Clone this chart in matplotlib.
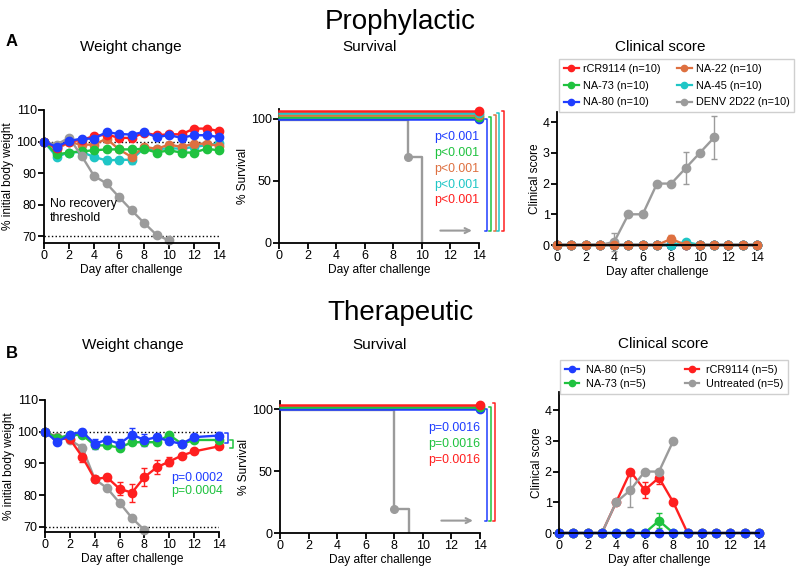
import numpy as np
import matplotlib
matplotlib.use("Agg")
import matplotlib.pyplot as plt
from matplotlib.lines import Line2D

plt.rcParams['font.family'] = ['Liberation Sans', 'DejaVu Sans']
plt.rcParams['font.size'] = 9

RED = '#ff1f1f'
GREEN = '#1fc23f'
BLUE = '#1f3dff'
ORANGE = '#de7040'
CYAN = '#1fc6c6'
GRAY = '#9b9b9b'

# ---- prophylactic data ----
days = np.arange(15)
pro_w_red = [100, 98.0, 100.0, 100.5, 101.7, 102.2, 101.2, 101.1, 102.8, 102.0, 102.3, 102.3, 104.1, 104.1, 103.3]
pro_w_orange = [100, 97.5, 99.8, 99.0, 99.0, 100.9, 97.5, 95.1, 98.3, 97.7, 99.0, 98.3, 99.3, 99.3, 98.6]
pro_w_green = [100, 95.9, 96.5, 96.9, 97.2, 97.5, 97.5, 97.5, 97.7, 96.5, 97.2, 96.5, 96.5, 97.7, 97.2]
pro_w_cyan = [100, 95.2, 96.5, 96.7, 95.1, 94.0, 94.2, 94.2, 97.9, 97.5, 97.9, 97.7, 98.3, 98.8, 99.4]
pro_w_blue = [100, 98.3, 100.2, 100.9, 100.9, 103.0, 102.4, 102.2, 103.0, 101.4, 102.0, 101.2, 102.0, 102.0, 101.4]
pro_w_gray = [100, 99.0, 101.2, 95.5, 89.1, 86.7, 82.4, 78.2, 74.2, 70.4, 68.6]
pro_e_cyan = [0, 0.5, 0.4, 0.5, 0.8, 1.0, 1.0, 1.2, 0.8, 0.5, 0.5, 0.5, 0.5, 0.5, 0.5]
pro_e_orange = [0, 0.4, 0.4, 0.5, 0.5, 0.6, 0.6, 1.2, 0.5, 0.5, 0.5, 0.5, 0.5, 0.5, 0.5]
pro_e_gray = [0, 0.3, 0.4, 0.5, 0.6, 0.8, 0.8, 0.6, 0.5, 0.5, 0.4]

pro_surv_labels = ['NA-80', 'NA-73', 'NA-22', 'NA-45', 'rCR9114']
pro_surv_colors = [BLUE, GREEN, ORANGE, CYAN, RED]
pro_surv = [100, 100, 100, 100, 100]
pro_gray_surv_days = [0, 9, 10]
pro_gray_surv = [100, 70, 0]
pro_pvals = ['p<0.001', 'p<0.001', 'p<0.001', 'p<0.001', 'p<0.001']

pro_cs_red = [0] * 15
pro_cs_green = [0] * 15
pro_cs_blue = [0] * 15
pro_cs_orange = [0, 0, 0, 0, 0, 0, 0, 0, 0.2, 0, 0, 0, 0, 0, 0]
pro_cs_cyan = [0, 0, 0, 0, 0, 0, 0, 0, 0, 0.1, 0, 0, 0, 0, 0]
pro_cs_gray = [0, 0, 0, 0, 0.1, 1, 1, 2, 2, 2.5, 3, 3.5]
pro_ce_gray = [0, 0, 0, 0, 0.3, 0, 0, 0, 0, 0.53, 0, 0.7]
pro_ce_orange = [0, 0, 0, 0, 0, 0, 0, 0, 0.13, 0, 0, 0, 0, 0, 0]
pro_leg_labels = ['rCR9114 (n=10)', 'NA-73 (n=10)', 'NA-80 (n=10)',
                  'NA-22 (n=10)', 'NA-45 (n=10)', 'DENV 2D22 (n=10)']
pro_leg_colors = [RED, GREEN, BLUE, ORANGE, CYAN, GRAY]

# ---- therapeutic data ----
tdays = [0, 1, 2, 3, 4, 5, 6, 7, 8, 9, 10, 11, 12, 14]
ther_w_blue = [100, 96.7, 99.1, 100.0, 96.2, 97.5, 96.2, 99.1, 97.4, 98.3, 97.0, 96.2, 98.3, 98.8]
ther_w_green = [100, 98.0, 99.0, 99.0, 95.7, 95.7, 95.0, 96.7, 96.7, 96.7, 99.0, 96.2, 97.4, 97.4]
ther_w_red = [100, 98.0, 97.7, 92.1, 85.1, 85.6, 82.0, 80.8, 85.7, 88.8, 90.6, 92.5, 93.8, 95.4]
ther_w_gray = [100, 98.3, 97.4, 95.0, 85.1, 82.2, 77.6, 72.8, 69.0]
ther_e_blue = [0, 0.5, 0.5, 0.8, 1.5, 1.2, 1.5, 2.0, 2.0, 1.0, 1.0, 0.5, 0.5, 1.0]
ther_e_green = [0, 0.4, 0.4, 0.5, 0.8, 0.5, 0.8, 0.5, 0.5, 0.5, 0.5, 0.5, 0.5, 0.5]
ther_e_red = [0, 0.4, 0.5, 1.5, 1.0, 1.2, 2.0, 2.8, 2.8, 2.2, 1.5, 0.8, 0.6, 0.8]
ther_e_gray = [0, 0.3, 0.4, 1.0, 0.6, 0.8, 0.8, 0.6, 0.5]

ther_surv_colors = [BLUE, GREEN, RED]
ther_surv = [100, 100, 100]
ther_gray_surv_days = [0, 8, 9]
ther_gray_surv = [100, 20, 0]
ther_pvals = ['p=0.0016', 'p=0.0016', 'p=0.0016']

ther_cs_blue = [0] * 15
ther_cs_green = [0, 0, 0, 0, 0, 0, 0, 0.4, 0, 0, 0, 0, 0, 0, 0]
ther_ce_green = [0, 0, 0, 0, 0, 0, 0, 0.25, 0, 0, 0, 0, 0, 0, 0]
ther_cs_red = [0, 0, 0, 0, 1, 2, 1.4, 1.8, 1, 0, 0, 0, 0, 0, 0]
ther_ce_red = [0, 0, 0, 0, 0, 0.05, 0.25, 0.2, 0, 0, 0, 0, 0, 0, 0]
ther_cs_gray = [0, 0, 0, 0, 1, 1.4, 2, 2, 3]
ther_ce_gray = [0, 0, 0, 0, 0, 0.55, 0, 0, 0]
ther_leg_labels = ['NA-80 (n=5)', 'NA-73 (n=5)', 'rCR9114 (n=5)', 'Untreated (n=5)']
ther_leg_colors = [BLUE, GREEN, RED, GRAY]

W, H = 800, 573
fig = plt.figure(figsize=(8, 5.73), dpi=100)
LAB = 8.6


def box(l, t, r, b):
    return [l / W, 1 - b / H, (r - l) / W, (b - t) / H]


def ftext(x, y, s, **kw):
    fig.text(x / W, 1 - y / H, s, ha=kw.pop('ha', 'center'), va=kw.pop('va', 'center'), **kw)


def style(ax, ylabel):
    for s in ['top', 'right']:
        ax.spines[s].set_visible(False)
    for s in ['left', 'bottom']:
        ax.spines[s].set_linewidth(1.3)
    ax.tick_params(direction='out', length=4, width=1.3, labelsize=LAB + 0.4, pad=1.2)
    ax.set_xlim(0, 14)
    ax.set_xticks(range(0, 15, 2))
    ax.set_xlabel('Day after challenge', fontsize=LAB, labelpad=1.5)
    ax.set_ylabel(ylabel, fontsize=LAB, labelpad=1)
    ax.patch.set_alpha(0)


def curve(ax, x, y, c, err=None, z=2):
    return ax.errorbar(x, y, yerr=err, color=c, lw=1.7, marker='o', ms=6, capsize=2.5,
                       elinewidth=1, ecolor=c, clip_on=False, zorder=z)


def bracket(ax, x, top, bottom, c, w=0.15):
    ax.plot([x - w, x, x, x - w], [top, top, bottom, bottom], color=c, lw=1.1, clip_on=False)


def legend(ax, labels, colors, x, y, **kw):
    handles = [Line2D([], [], color=c, lw=1.6, marker='o', ms=4.5) for c in colors]
    ax.legend(handles, labels, ncol=2, loc='upper left', bbox_to_anchor=(x / W, 1 - y / H),
              bbox_transform=fig.transFigure, fancybox=False, edgecolor='#c4c4c4',
              fontsize=7.8, borderaxespad=0, **kw)


def survival(ax, colors, vals, gdays, gvals, pvals, ytext, xb, tops, ylim):
    offs = np.arange(len(vals)) * 1.5
    for c, v, o in zip(colors, vals, offs):
        ax.plot([0, 14], [v + o, v + o], color=c, lw=1.8, marker='o', ms=6,
                markevery=[1], clip_on=False, zorder=3)
    ax.plot(gdays, np.array(gvals) - 1, color=GRAY, lw=1.7, drawstyle='steps-post', zorder=2)
    ax.plot(gdays[1], gvals[1] - 1, 'o', color=GRAY, ms=5.5, zorder=2)
    for i, (c, p) in enumerate(zip(colors, pvals)):
        ax.text(14, ytext - i * 12.8, p, color=c, ha='right', va='center', fontsize=8.9)
    for c, x, t in zip(colors, xb, tops):
        bracket(ax, x, t, 10, c)
    ax.annotate('', xy=(13.7, 10), xytext=(11.1, 10),
                arrowprops=dict(arrowstyle='->', color=GRAY, lw=1.5))
    ax.set_ylim(*ylim)
    ax.set_yticks([0, 50, 100])


# ================= Prophylactic =================
ftext(400, 22, 'Prophylactic', fontsize=20)
ftext(12, 41, 'A', fontsize=12, fontweight='bold')
ftext(131, 47, 'Weight change', fontsize=11)
ftext(370, 47, 'Survival', fontsize=11)
ftext(660, 47, 'Clinical score', fontsize=11)

ax = fig.add_axes(box(44, 110, 219, 243))
style(ax, '% initial body weight')
ax.axhline(100, ls=':', color='k', lw=1, zorder=1)
ax.axhline(70, ls=':', color='k', lw=1, zorder=1)
curve(ax, days, pro_w_cyan, CYAN, pro_e_cyan)
curve(ax, days, pro_w_orange, ORANGE, pro_e_orange)
curve(ax, days, pro_w_green, GREEN, 0.4)
curve(ax, days[:len(pro_w_gray)], pro_w_gray, GRAY, pro_e_gray)
curve(ax, days, pro_w_red, RED, 0.4)
curve(ax, days, pro_w_blue, BLUE, 0.4)
ax.text(0.5, 78, 'No recovery\nthreshold', fontsize=8.9, va='center', ha='left', linespacing=1.2)
ax.set_ylim(67.8, 110)
ax.set_yticks([70, 80, 90, 100, 110])

ax = fig.add_axes(box(279, 109, 479, 243))
style(ax, '% Survival')
survival(ax, pro_surv_colors, pro_surv, pro_gray_surv_days, pro_gray_surv, pro_pvals,
         85.5, [14.56, 14.84, 15.19, 15.42, 15.75], [100, 101.6, 103, 104.8, 106], (0, 108))

ax = fig.add_axes(box(557, 112, 757, 245))
style(ax, 'Clinical score')
curve(ax, days, pro_cs_red, RED)
curve(ax, days, pro_cs_green, GREEN)
curve(ax, days, pro_cs_blue, BLUE)
curve(ax, days, pro_cs_cyan, CYAN, 0.05)
curve(ax, days[:len(pro_cs_gray)], pro_cs_gray, GRAY, pro_ce_gray)
curve(ax, days, pro_cs_orange, ORANGE, pro_ce_orange)
ax.set_ylim(0, 4.33)
ax.set_yticks(range(5))
legend(ax, pro_leg_labels, pro_leg_colors, 559, 59, handlelength=1.4, handletextpad=0.35,
       columnspacing=1.5, labelspacing=0.62, borderpad=0.45)

# ================= Therapeutic =================
ftext(400, 313, 'Therapeutic', fontsize=20)
ftext(12, 353, 'B', fontsize=12, fontweight='bold')
ftext(133, 345, 'Weight change', fontsize=11)
ftext(380, 345, 'Survival', fontsize=11)
ftext(663, 344, 'Clinical score', fontsize=11)

ax = fig.add_axes(box(45, 400, 219, 532))
style(ax, '% initial body weight')
ax.axhline(100, ls=':', color='k', lw=1, zorder=1)
ax.axhline(70, ls=':', color='k', lw=1, zorder=1)
curve(ax, tdays[:len(ther_w_gray)], ther_w_gray, GRAY, ther_e_gray)
curve(ax, tdays, ther_w_red, RED, ther_e_red)
curve(ax, tdays, ther_w_green, GREEN, ther_e_green)
curve(ax, tdays, ther_w_blue, BLUE, ther_e_blue)
bracket(ax, 14.7, 99.6, 96.5, BLUE, w=0.25)
bracket(ax, 15.1, 97.5, 95.0, GREEN, w=0.25)
ax.text(14.3, 85.4, 'p=0.0002', color=BLUE, ha='right', va='center', fontsize=8.9)
ax.text(14.3, 81.3, 'p=0.0004', color=GREEN, ha='right', va='center', fontsize=8.9)
ax.set_ylim(68.4, 110)
ax.set_yticks([70, 80, 90, 100, 110])

ax = fig.add_axes(box(280, 401, 480, 533))
style(ax, '% Survival')
survival(ax, ther_surv_colors, ther_surv, ther_gray_surv_days, ther_gray_surv, ther_pvals,
         84.7, [14.49, 14.77, 15.05], [100, 101.6, 105.2], (0, 106.5))

ax = fig.add_axes(box(559, 392, 759, 533))
style(ax, 'Clinical score')
curve(ax, days, ther_cs_red, RED, ther_ce_red)
curve(ax, days[:len(ther_cs_gray)], ther_cs_gray, GRAY, ther_ce_gray)
curve(ax, days, ther_cs_green, GREEN, ther_ce_green)
curve(ax, days, ther_cs_blue, BLUE)
ax.set_ylim(0, 4.59)
ax.set_yticks(range(5))
legend(ax, ther_leg_labels, ther_leg_colors, 560, 360, handlelength=1.3, handletextpad=0.65,
       columnspacing=3.6, labelspacing=0.4, borderpad=0.45)

fig.savefig('out.png', dpi=100)
